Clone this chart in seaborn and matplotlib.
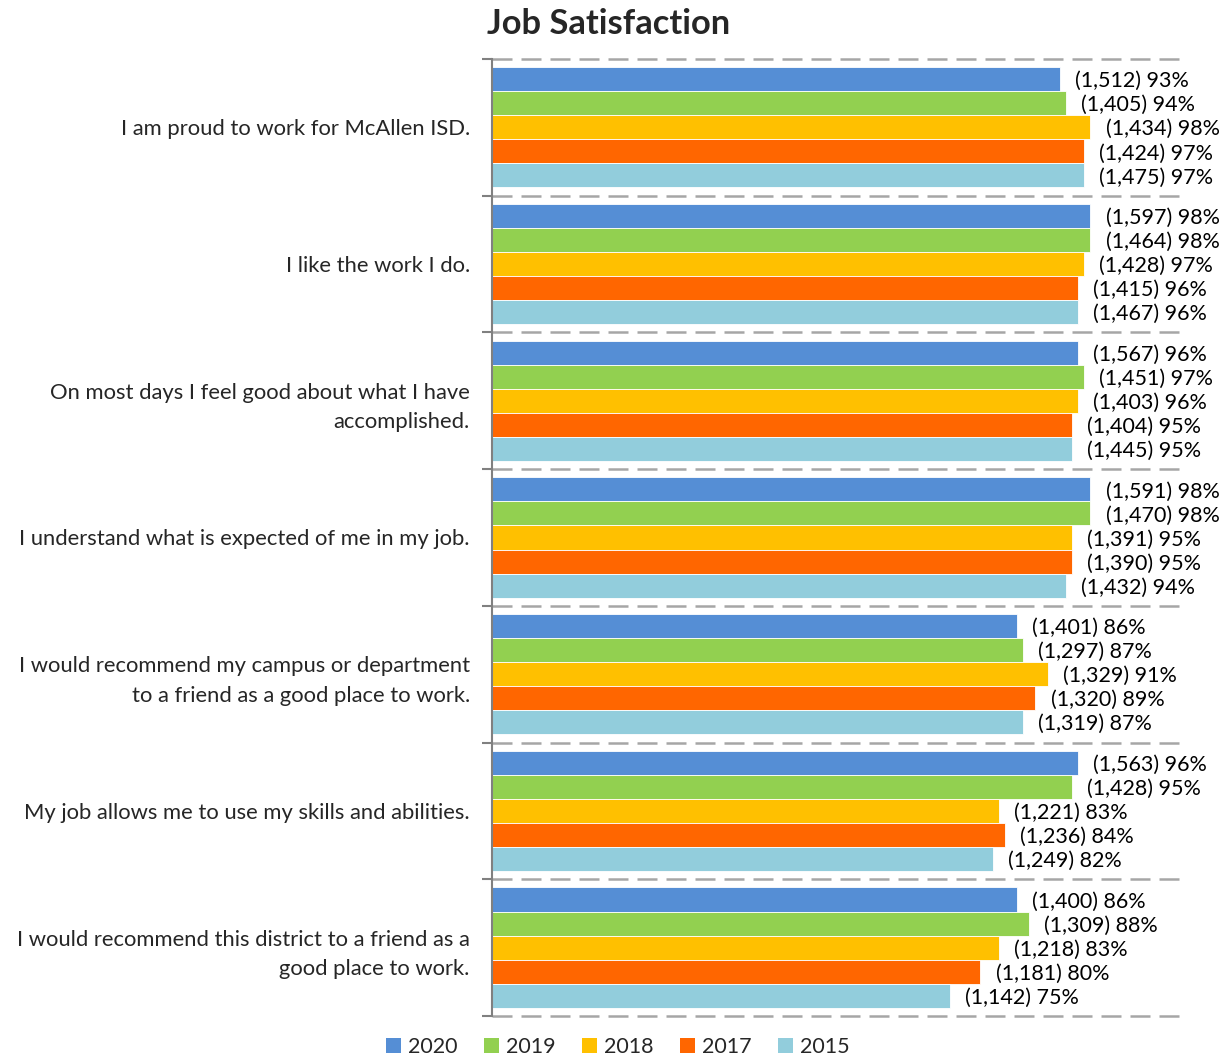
import numpy as np
import pandas as pd
import matplotlib
matplotlib.use("Agg")
import matplotlib.pyplot as plt
import seaborn as sns

questions = [
    "I am proud to work for McAllen ISD.",
    "I like the work I do.",
    "On most days I feel good about what I have\naccomplished.",
    "I understand what is expected of me in my job.",
    "I would recommend my campus or department\nto a friend as a good place to work.",
    "My job allows me to use my skills and abilities.",
    "I would recommend this district to a friend as a\ngood place to work.",
]
years = ["2020", "2019", "2018", "2017", "2015"]

counts_2020 = [1512, 1597, 1567, 1591, 1401, 1563, 1400]
counts_2019 = [1405, 1464, 1451, 1470, 1297, 1428, 1309]
counts_2018 = [1434, 1428, 1403, 1391, 1329, 1221, 1218]
counts_2017 = [1424, 1415, 1404, 1390, 1320, 1236, 1181]
counts_2015 = [1475, 1467, 1445, 1432, 1319, 1249, 1142]

pct_2020 = [93, 98, 96, 98, 86, 96, 86]
pct_2019 = [94, 98, 97, 98, 87, 95, 88]
pct_2018 = [98, 97, 96, 95, 91, 83, 83]
pct_2017 = [97, 96, 95, 95, 89, 84, 80]
pct_2015 = [97, 96, 95, 94, 87, 82, 75]

colors = ["#558ED5", "#92D050", "#FFC000", "#FF6600", "#92CDDC"]

counts = [counts_2020, counts_2019, counts_2018, counts_2017, counts_2015]
pcts = [pct_2020, pct_2019, pct_2018, pct_2017, pct_2015]

rows = []
for y, c_list, p_list in zip(years, counts, pcts):
    for q, c, p in zip(questions, c_list, p_list):
        rows.append({"question": q, "year": y, "count": c, "pct": p})
df = pd.DataFrame(rows)

sns.set_theme(style="white")
plt.rcParams["font.family"] = ["Lato", "DejaVu Sans"]

fig = plt.figure(figsize=(12.31, 10.57), dpi=100)
ax = fig.add_axes([0.3997, 0.0388, 0.5653, 0.9054])

sns.barplot(data=df, y="question", x="pct", hue="year", order=questions,
            hue_order=years, palette=colors, saturation=1, orient="h",
            width=0.88, edgecolor="white", linewidth=0.6, legend=False, ax=ax)

ax.set_xlim(0, 114)
ax.set_ylim(len(questions) - 0.5, -0.5)

# value labels: (count) pct%
for container, c_list, p_list in zip(ax.containers, counts, pcts):
    labels = [f"({c:,}) {p}%" for c, p in zip(c_list, p_list)]
    texts = ax.bar_label(container, labels=labels, padding=11, fontsize=15.5,
                         color="#000000")
    for t in texts:
        t.set_y(t.get_position()[1])
        t.set_va("center_baseline")

# dashed separators between question groups
for b in np.arange(-0.5, len(questions), 1.0):
    ax.axhline(b, color="#A6A6A6", linestyle=(0, (8, 3.6)), linewidth=1.8,
               zorder=0, clip_on=False)

ax.set_xticks([])
ax.set_yticks(range(len(questions)))
ax.set_yticklabels(questions, fontsize=15.8, linespacing=1.6)
ax.set_yticks(np.arange(-0.5, len(questions), 1.0), minor=True)
ax.tick_params(axis="y", which="major", length=0, pad=16)
ax.tick_params(axis="y", which="minor", length=7, width=1.5, color="#808080",
               left=True)
ax.set_xlabel("")
ax.set_ylabel("")

for side in ["top", "right", "bottom"]:
    ax.spines[side].set_visible(False)
ax.spines["left"].set_color("#808080")
ax.spines["left"].set_linewidth(1.5)

fig.text(0.396, 0.977, "Job Satisfaction", fontsize=24.8, fontweight="bold",
         ha="left", va="center")

handles = [plt.Rectangle((0, 0), 1, 1, facecolor=c, edgecolor="none")
           for c in colors]
fig.legend(handles, years, loc="center", bbox_to_anchor=(0.502, 0.009),
           ncol=5, frameon=False, fontsize=15.5, handlelength=0.7,
           handleheight=0.7, handletextpad=0.35, columnspacing=1.2)

fig.savefig("out.png", dpi=100)
